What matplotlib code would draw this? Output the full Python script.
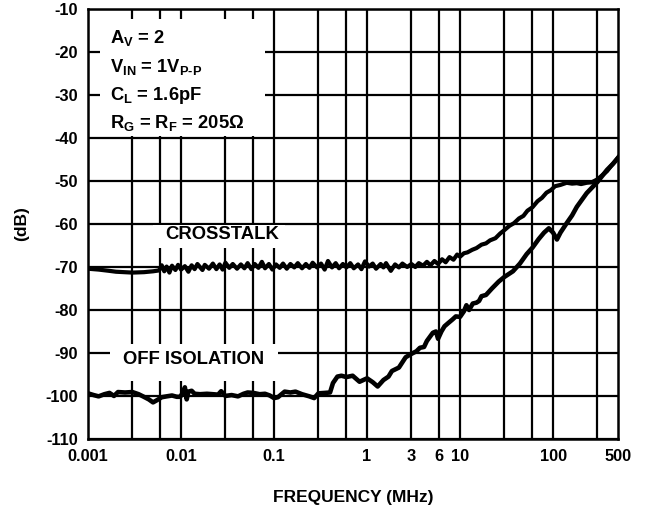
import numpy as np
import matplotlib.pyplot as plt
from matplotlib.patches import Rectangle

plt.rcParams["font.family"] = ["Liberation Sans", "DejaVu Sans"]
plt.rcParams["font.weight"] = "bold"
plt.rcParams["axes.unicode_minus"] = False
plt.rcParams["mathtext.fontset"] = "custom"
plt.rcParams["mathtext.rm"] = "Liberation Sans:bold"
plt.rcParams["mathtext.it"] = "Liberation Sans:bold"
plt.rcParams["mathtext.bf"] = "Liberation Sans:bold"

# crosstalk trace (MHz, dB)
xtalk_freq = [
    0.001, 0.0013, 0.0017, 0.002, 0.003, 0.004, 0.005, 0.0058, 0.0062, 0.0066,
    0.007, 0.0075, 0.008, 0.0087, 0.0093, 0.01, 0.011, 0.012, 0.013, 0.014,
    0.015, 0.017, 0.018, 0.02, 0.022, 0.024, 0.026, 0.028, 0.03, 0.033,
    0.036, 0.04, 0.044, 0.048, 0.052, 0.057, 0.062, 0.068, 0.074, 0.08,
    0.088, 0.096, 0.105, 0.115, 0.125, 0.137, 0.15, 0.165, 0.18, 0.2,
    0.22, 0.24, 0.26, 0.29, 0.32, 0.35, 0.38, 0.42, 0.46, 0.5,
    0.55, 0.6, 0.66, 0.72, 0.8, 0.87, 0.95, 1.05, 1.15, 1.25,
    1.4, 1.5, 1.6, 1.8, 2.0, 2.2, 2.4, 2.7, 3.0, 3.3,
    3.6, 4.0, 4.4, 4.8, 5.3, 5.8, 6.4, 7.0, 7.7, 8.5,
    9.3, 10, 11, 12, 13.5, 15, 17, 19, 21, 24,
    27, 30, 34, 38, 43, 48, 53, 60, 68, 76,
    85, 95, 105, 120, 140, 160, 180, 200, 230, 260,
    300, 340, 380, 420, 460, 500,
]
xtalk_db = [
    -70.4, -70.6, -70.9, -71.1, -71.3, -71.2, -71.0, -70.8, -69.6, -71.0,
    -69.9, -71.3, -69.7, -70.7, -69.5, -70.6, -69.8, -71.1, -69.6, -70.5,
    -69.3, -70.7, -69.5, -70.4, -69.2, -70.5, -69.4, -70.6, -69.0, -70.2,
    -69.3, -70.4, -69.4, -70.3, -69.1, -70.5, -69.3, -70.2, -68.8, -70.3,
    -69.3, -70.6, -69.4, -70.2, -69.2, -70.4, -69.3, -70.1, -69.1, -70.3,
    -69.3, -70.2, -69.0, -70.1, -69.2, -70.6, -68.6, -70.1, -69.1, -70.3,
    -69.3, -70.1, -69.1, -70.3, -69.4, -70.5, -68.7, -69.9, -69.2, -70.4,
    -69.3, -70.1, -69.1, -70.9, -69.4, -70.1, -69.2, -70.0, -69.3, -70.0,
    -69.1, -69.7, -68.8, -69.6, -68.6, -69.3, -68.2, -68.9, -67.7, -68.3,
    -67.1, -67.6, -66.8, -66.6, -66.0, -65.6, -64.8, -64.5, -63.8, -63.3,
    -62.2, -61.4, -60.4, -59.8, -58.7, -58.1, -56.9, -56.1, -54.7, -53.9,
    -52.7, -52.1, -51.2, -50.9, -50.4, -50.6, -50.5, -50.7, -50.4, -50.3,
    -49.6, -48.6, -47.7, -46.5, -45.5, -44.5,
]

# off isolation trace (MHz, dB)
iso_freq = [
    0.001, 0.00115, 0.0013, 0.0015, 0.0017, 0.0019, 0.0021, 0.0025, 0.003, 0.0035,
    0.0039, 0.0045, 0.005, 0.0055, 0.0062, 0.007, 0.008, 0.009, 0.0098, 0.0105,
    0.011, 0.0115, 0.012, 0.013, 0.014, 0.016, 0.019, 0.022, 0.025, 0.027,
    0.03, 0.035, 0.041, 0.047, 0.052, 0.06, 0.07, 0.08, 0.09, 0.1,
    0.11, 0.13, 0.15, 0.17, 0.2, 0.24, 0.27, 0.3, 0.35, 0.4,
    0.43, 0.48, 0.53, 0.6, 0.7, 0.83, 1.0, 1.15, 1.3, 1.5,
    1.7, 1.85, 2.2, 2.6, 3.0, 3.4, 3.7, 4.1, 4.4, 5.1,
    5.5, 5.8, 6.3, 6.8, 7.5, 8.3, 9.0, 10, 11, 11.7,
    12.5, 13.7, 15, 16, 17, 19, 22, 26, 30, 37,
    44, 52, 60, 70, 80, 90, 100, 110, 120, 140,
    160, 180, 230, 300, 380, 440, 500,
]
iso_db = [
    -99.4, -99.8, -100.1, -99.6, -99.3, -100.0, -99.1, -99.2, -99.1, -99.6,
    -100.1, -100.8, -101.5, -101.0, -100.3, -100.1, -99.9, -100.2, -100.2, -99.2,
    -98.0, -100.8, -99.0, -98.8, -99.5, -99.6, -99.5, -99.6, -99.7, -98.9,
    -100.0, -99.8, -100.1, -99.5, -99.2, -99.3, -99.6, -99.5, -99.9, -100.5,
    -100.3, -99.0, -99.2, -99.0, -99.6, -100.1, -100.5, -99.4, -99.3, -99.2,
    -97.0, -95.5, -95.3, -95.6, -95.3, -96.7, -95.9, -96.8, -97.8, -96.3,
    -95.5, -94.2, -93.4, -91.0, -90.2, -89.6, -88.8, -88.6, -87.2, -85.3,
    -85.0, -86.7, -85.0, -83.8, -83.0, -82.2, -81.5, -81.6, -80.3, -78.9,
    -80.0, -78.5, -78.3, -77.9, -76.8, -76.5, -75.0, -73.4, -72.3, -71.0,
    -69.2, -67.0, -65.5, -63.5, -62.0, -61.0, -62.0, -63.6, -62.0, -59.8,
    -58.0, -56.0, -52.8, -50.2, -47.4, -46.0, -44.6,
]

x_ticks = [0.001, 0.01, 0.1, 1, 3, 6, 10, 100, 500]
x_ticklabels = ["0.001", "0.01", "0.1", "1", "3", "6", "10", "100", "500"]
x_grid = [0.003, 0.006, 0.01, 0.03, 0.06, 0.1, 0.3, 0.6, 1, 3, 6, 10, 30, 60, 100, 300]
y_ticks = list(range(-110, 0, 10))

conditions = [
    r"A$_\mathregular{V}$ = 2",
    "V$_\\mathregular{IN}$ = 1V$_\\mathregular{P\u2010P}$",
    r"C$_\mathregular{L}$ = 1.6pF",
    r"R$_\mathregular{G}$ = R$_\mathregular{F}$ = 205Ω",
]

fig = plt.figure(figsize=(6.52, 5.08), dpi=100)
ax = fig.add_axes([0.135, 0.136, 0.813, 0.846])
ax.set_xscale("log")
ax.set_xlim(0.001, 500)
ax.set_ylim(-110, -10)

for xv in x_grid:
    ax.axvline(xv, color="black", lw=1.6, zorder=0.5)
for yv in y_ticks:
    ax.axhline(yv, color="black", lw=1.6, zorder=0.5)

ax.set_xticks(x_ticks)
ax.set_xticklabels(x_ticklabels)
ax.minorticks_off()
ax.set_yticks(y_ticks)
ax.tick_params(length=0, labelsize=11.8, pad=7)
for lab in ax.get_xticklabels() + ax.get_yticklabels():
    lab.set_fontweight("bold")
for sp in ax.spines.values():
    sp.set_linewidth(1.8)

# white boxes behind the text blocks
ax.add_patch(Rectangle((0.00135, -39.6), 0.08 - 0.00135, 27.4, facecolor="white",
                       edgecolor="none", zorder=1))
ax.add_patch(Rectangle((0.005, -65.5), 0.13 - 0.005, 5.2, facecolor="white",
                       edgecolor="none", zorder=1))
ax.add_patch(Rectangle((0.00172, -96.5), 0.11 - 0.00172, 8.6, facecolor="white",
                       edgecolor="none", zorder=1))

ax.plot(xtalk_freq, xtalk_db, color="black", lw=3.0, zorder=3)
ax.plot(iso_freq, iso_db, color="black", lw=3.3, zorder=3)

for i, txt in enumerate(conditions):
    ax.text(0.00172, -16.8 - 6.6 * i, txt, fontsize=13.2, fontweight="bold",
            ha="left", va="center", zorder=4)

ax.text(0.0275, -62.4, "CROSSTALK", fontsize=13.3, fontweight="bold",
        ha="center", va="center", zorder=4)
ax.text(0.0135, -91.5, "OFF ISOLATION", fontsize=13.3, fontweight="bold",
        ha="center", va="center", zorder=4)

ax.set_xlabel("FREQUENCY (MHz)", fontsize=12.5, fontweight="bold", labelpad=19)
ax.set_ylabel("(dB)", fontsize=12.5, fontweight="bold", labelpad=12)

fig.savefig("out.png", dpi=100)
